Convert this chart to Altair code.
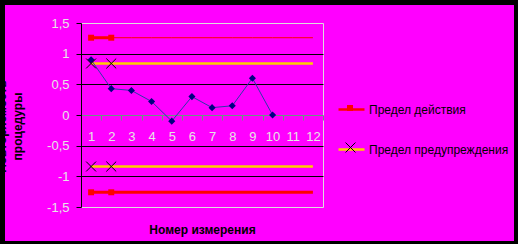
import altair as alt
import pandas as pd

# --- data -------------------------------------------------------------
measurement_numbers = [str(i) for i in range(1, 13)]
measured_numbers = measurement_numbers[:10]
measured_values = [0.9, 0.43, 0.4, 0.22, -0.1, 0.3, 0.12, 0.15, 0.6, 0.0]

action_name = "Предел действия"
warning_name = "Предел предупреждения"
series_names = [action_name, warning_name]
action_limit = 1.26
warning_limit = 0.84
marker_numbers = ["1", "2"]

y_ticks = [-1.5, -1.0, -0.5, 0.0, 0.5, 1.0, 1.5]

# --- tables -----------------------------------------------------------
measured = pd.DataFrame({"n": measured_numbers, "value": measured_values})

limit_rows = []
for n in measurement_numbers:
    for name, lim in ((action_name, action_limit), (warning_name, warning_limit)):
        limit_rows.append({"n": n, "value": lim, "series": name, "side": "upper",
                           "start": n in marker_numbers})
        limit_rows.append({"n": n, "value": -lim, "series": name, "side": "lower",
                           "start": n in marker_numbers})
limits = pd.DataFrame(limit_rows)

marker_rows = []
for n in marker_numbers:
    for name, lim in ((action_name, action_limit), (warning_name, warning_limit)):
        marker_rows.append({"n": n, "value": lim, "marker": name, "side": "upper"})
        marker_rows.append({"n": n, "value": -lim, "marker": name, "side": "lower"})
markers = pd.DataFrame(marker_rows)

# --- styling ----------------------------------------------------------
FONT = "Liberation Sans"
PINK = "#ff00ff"
FRAME_GREEN = "#669980"
LABEL_GREY = "#e6e6e6"
SQUARE = "M-0.23,-0.23H0.23V0.23H-0.23Z"
CROSS = "M-0.38,-0.38L0.38,0.38M-0.38,0.38L0.38,-0.38"
SYM = 676
LEG_X = 256
LEG_Y = 72
ROW_GAP = 39

x_axis = alt.Axis(
    title="Номер измерения", titleFont=FONT, titleFontSize=12, titleFontWeight="bold",
    titleColor="black", titleY=114, titleBaseline="middle",
    offset=-92, labelAngle=0, labelColor=LABEL_GREY, labelFont=FONT, labelFontSize=13,
    labelPadding=10, labelOverlap=False,
    domainColor=FRAME_GREEN, domainWidth=1, tickColor=FRAME_GREEN, tickSize=5,
    tickBand="extent", grid=False, zindex=0,
)

y_axis = alt.Axis(
    title=["Повторяемость", "процедуры"], titleFont=FONT, titleFontSize=12,
    titleFontWeight="bold", titleColor="black", titleAngle=-90, titleAlign="center",
    titleBaseline="bottom", titleX=-73, titleY=103, titleLineHeight=16,
    values=y_ticks,
    labelExpr="replace(replace(format(datum.value, '~g'), '.', ','), '−', '-')",
    labelColor=LABEL_GREY, labelFont=FONT, labelFontSize=13, labelPadding=7,
    domainColor="black", tickColor="black", tickSize=5,
    grid=True,
    gridColor={"condition": {"test": "abs(datum.value) > 1.4 || datum.value === 0",
                             "value": "transparent"}, "value": "black"},
    zindex=0,
)

x_enc = alt.X("n:O", sort=measurement_numbers,
              scale=alt.Scale(type="band", domain=measurement_numbers,
                              paddingInner=0, paddingOuter=0),
              axis=x_axis)
y_enc = alt.Y("value:Q", scale=alt.Scale(domain=[-1.5, 1.5], nice=False, zero=False),
              axis=y_axis)

line_legend = alt.Legend(
    title=None, orient="none", legendX=LEG_X, legendY=LEG_Y, padding=0,
    symbolType="stroke", symbolSize=SYM, symbolStrokeWidth=2.5,
    labelFont=FONT, labelFontSize=12, labelColor="black", labelOffset=3, rowPadding=19,
)
square_legend = alt.Legend(
    title=None, orient="none", legendX=LEG_X, legendY=LEG_Y, padding=0,
    symbolType=SQUARE, symbolSize=SYM, symbolStrokeWidth=0,
    labelFontSize=12, labelExpr="''",
)
cross_legend = alt.Legend(
    title=None, orient="none", legendX=LEG_X, legendY=LEG_Y + ROW_GAP, padding=0,
    symbolSize=SYM, symbolStrokeWidth=1, symbolStrokeColor="black",
    symbolFillColor="transparent",
    labelFontSize=12, labelExpr="''",
)

stroke_enc = alt.Stroke("series:N",
                        scale=alt.Scale(domain=series_names, range=["#ff0000", "#ffcc00"]),
                        legend=line_legend)

base_limits = alt.Chart(limits)
is_action = f"datum.series === '{action_name}'"
is_warning = f"datum.series === '{warning_name}'"

warning_lines = base_limits.transform_filter(is_warning).mark_line(strokeWidth=2.5).encode(
    x=x_enc, y=y_enc, stroke=stroke_enc, detail="side:N")

action_lower = base_limits.transform_filter(
    f"{is_action} && datum.side === 'lower'"
).mark_line(strokeWidth=3).encode(x=x_enc, y=y_enc, stroke=stroke_enc)

action_upper = base_limits.transform_filter(
    f"{is_action} && datum.side === 'upper'"
).mark_line(strokeWidth=1).encode(x=x_enc, y=y_enc, stroke=stroke_enc)

action_upper_start = base_limits.transform_filter(
    f"{is_action} && datum.side === 'upper' && datum.start"
).mark_line(strokeWidth=3).encode(x=x_enc, y=y_enc, stroke=stroke_enc)

measured_line = alt.Chart(measured).mark_line(
    color="#2b3aa8", strokeWidth=1
).encode(x=x_enc, y=y_enc)

measured_points = alt.Chart(measured).mark_point(
    shape="diamond", filled=True, size=50, color="#000080", opacity=1
).encode(x=x_enc, y=y_enc)

# red squares on the action limits
square_markers = alt.Chart(markers).transform_filter(
    f"datum.marker === '{action_name}'"
).mark_point(size=SYM, shape=SQUARE, filled=True, strokeWidth=0, opacity=1).encode(
    x=x_enc, y=y_enc,
    fill=alt.Fill("marker:N", scale=alt.Scale(range=["#ff0000"]), legend=square_legend),
)

# black crosses on the warning limits
cross_markers = alt.Chart(markers).transform_filter(
    f"datum.marker === '{warning_name}'"
).mark_point(size=SYM, filled=False, color="black", strokeWidth=1, opacity=1).encode(
    x=x_enc, y=y_enc,
    shape=alt.Shape("marker:N", scale=alt.Scale(range=[CROSS]), legend=cross_legend),
)

# black frame around the pink chart area
frame_src = alt.Chart(alt.Data(values=[{"k": 0}]))
frame = [
    frame_src.mark_rect(color="black").encode(
        x=alt.value(-81), x2=alt.value(437), y=alt.value(-23), y2=alt.value(-18)),
    frame_src.mark_rect(color="black").encode(
        x=alt.value(-81), x2=alt.value(437), y=alt.value(218), y2=alt.value(221)),
    frame_src.mark_rect(color="black").encode(
        x=alt.value(-81), x2=alt.value(-76), y=alt.value(-23), y2=alt.value(221)),
    frame_src.mark_rect(color="black").encode(
        x=alt.value(433), x2=alt.value(437), y=alt.value(-23), y2=alt.value(221)),
]

chart = alt.layer(
    warning_lines, action_lower, action_upper, action_upper_start,
    measured_line, measured_points, square_markers, cross_markers, *frame,
).properties(
    width=242, height=184,
    autosize=alt.AutoSizeParams(type="none"),
    padding={"left": 81, "top": 23, "right": 195, "bottom": 37},
    background=PINK,
).configure_view(
    stroke=FRAME_GREEN, strokeWidth=1, fill=None,
).configure(font=FONT)

chart.save("out.html", embed_options={"renderer": "svg", "actions": False})
